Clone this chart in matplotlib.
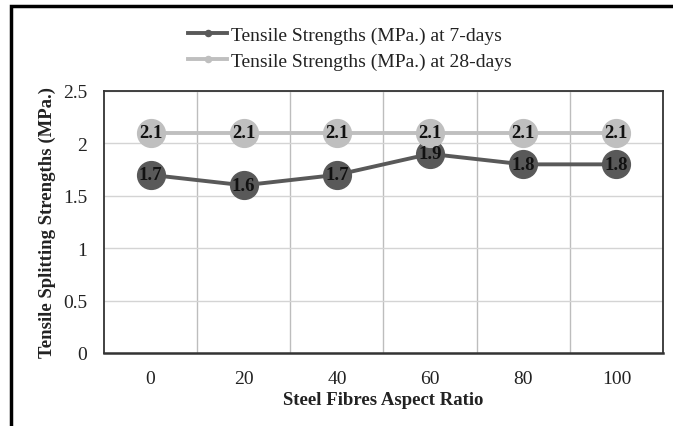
import matplotlib.pyplot as plt
from matplotlib.patches import Rectangle

ratios = ['0', '20', '40', '60', '80', '100']
days7 = [1.7, 1.6, 1.7, 1.9, 1.8, 1.8]
days28 = [2.1, 2.1, 2.1, 2.1, 2.1, 2.1]

plt.rcParams['font.family'] = ['Liberation Serif', 'DejaVu Serif']

fig = plt.figure(figsize=(6.73, 4.27), dpi=100)
ax = fig.add_axes([104 / 673, 73 / 427, 559 / 673, 262 / 427])

xs = range(len(ratios))
l7, = ax.plot(xs, days7, color='#595959', lw=2.8, marker='o', ms=20,
              mfc='#595959', mec='#595959', zorder=3,
              label='Tensile Strengths (MPa.) at 7-days')
l28, = ax.plot(xs, days28, color='#bfbfbf', lw=2.8, marker='o', ms=20,
               mfc='#bfbfbf', mec='#bfbfbf', zorder=3,
               label='Tensile Strengths (MPa.) at 28-days')

for x, v in zip(xs, days7):
    ax.text(x, v, f'{v:.1f}', ha='center', va='center', fontsize=13.5,
            fontweight='bold', color='#111111', zorder=4)
for x, v in zip(xs, days28):
    ax.text(x, v, f'{v:.1f}', ha='center', va='center', fontsize=13.5,
            fontweight='bold', color='#111111', zorder=4)

ax.set_xlim(-0.5, len(ratios) - 0.5)
ax.set_ylim(0, 2.5)
ax.set_xticks(list(xs))
ax.set_xticklabels(ratios)
ax.set_xticks([i + 0.5 for i in range(len(ratios) - 1)], minor=True)
ax.set_yticks([0, 0.5, 1, 1.5, 2, 2.5])
ax.set_yticklabels(['0', '0.5', '1', '1.5', '2', '2.5'])
ax.tick_params(which='both', length=0, labelsize=14, labelcolor='#222222')
ax.tick_params(axis='x', pad=12)
ax.tick_params(axis='y', pad=12)
ax.grid(axis='y', which='major', color='#d4d4d4', lw=1)
ax.grid(axis='x', which='minor', color='#bdbdbd', lw=1)
ax.set_axisbelow(True)
for s in ax.spines.values():
    s.set_color('#333333')
    s.set_linewidth(1.3)
ax.spines['bottom'].set_linewidth(1.8)

ax.set_xlabel('Steel Fibres Aspect Ratio', fontsize=13.5, fontweight='bold',
              labelpad=3, color='#222222')
ax.set_ylabel('Tensile Splitting Strengths (MPa.)', fontsize=13.5,
              fontweight='bold', labelpad=5, color='#222222')

leg = fig.legend(handles=[l7, l28], loc='center', bbox_to_anchor=(0.52, 0.885),
                 frameon=False, fontsize=14, markerscale=0.22,
                 handlelength=2.0, handletextpad=0.2, labelspacing=0.42)
for t in leg.get_texts():
    t.set_color('#222222')

fig.patches.append(Rectangle((11 / 673, -0.05), 1.2, (427 - 7) / 427 + 0.05,
                             transform=fig.transFigure, fill=False,
                             ec='black', lw=2.5, zorder=10))

fig.savefig('out.png', dpi=100)
